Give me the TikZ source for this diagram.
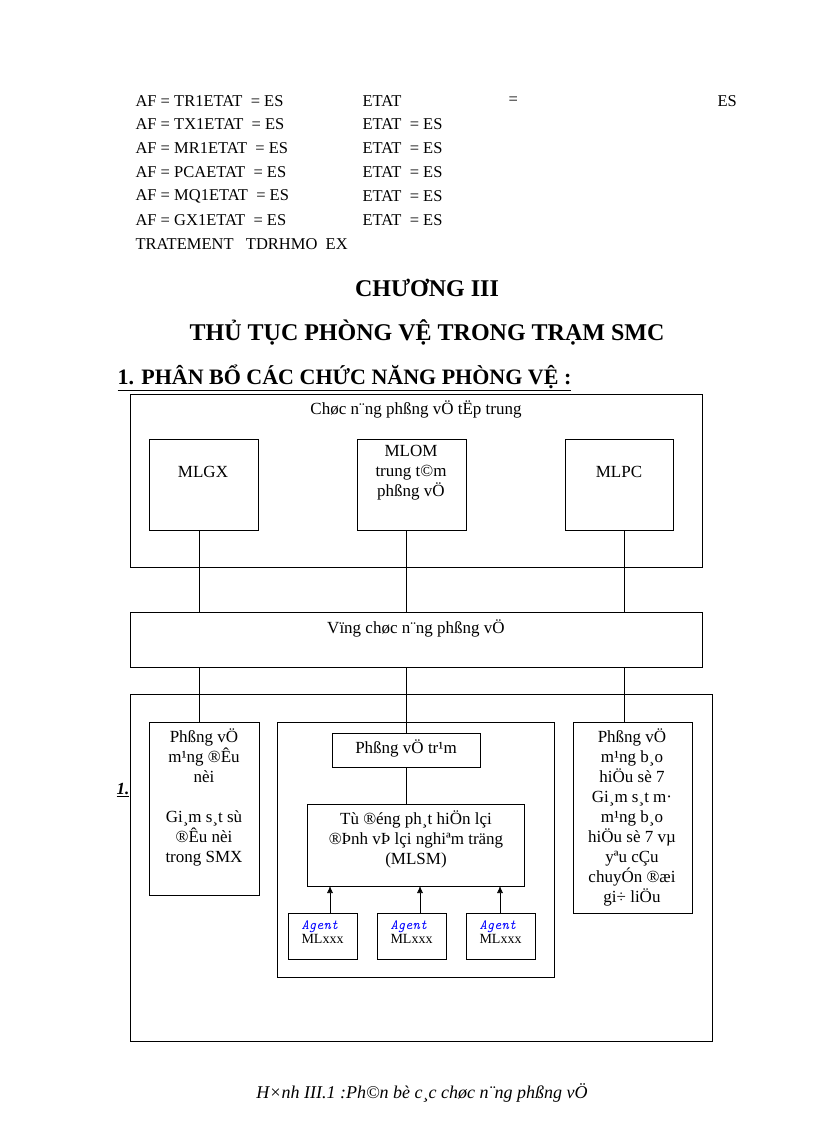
\documentclass[tikz,border=0pt]{standalone}
\usepackage{fontspec}
\usetikzlibrary{arrows.meta}
\setmainfont{Liberation Serif}
\begin{document}
\begin{tikzpicture}[x=1pt,y=-1pt,
  box/.style={draw,line width=0.8pt},
  lbl/.style={font=\fontsize{17}{20}\selectfont,align=center,anchor=north},
  txt/.style={font=\fontsize{16.5}{20}\selectfont,anchor=west},
  hd/.style={font=\bfseries\fontsize{24}{28}\selectfont},
  ln/.style={line width=0.6pt},
  ag/.style={font=\fontsize{14}{16}\selectfont,align=left}]
\useasboundingbox (0,0) rectangle (816,1123);
% header text
\foreach \y/\a/\b in {101/TR1ETAT/ETAT, 124/TX1ETAT/ETAT\ \ = ES, 148/MR1ETAT/ETAT\ \ = ES, 172/PCAETAT/ETAT\ \ = ES, 196/MQ1ETAT/ETAT\ \ = ES, 220/GX1ETAT/ETAT\ \ = ES}{
  \node[txt] (l\y) at (132,\y) {AF = \a\ \ = ES};
  \node[txt] (r\y) at (359,\y) {\b};
}
\node[txt] (eq) at (505,101) {=};
\node[txt] (es) at (714,101) {ES};
\node[txt] (tr) at (132,244) {TRATEMENT\ \ \ TDRHMO\ \ EX};
\node[hd] (h1) at (427,288) {CHƯƠNG III};
\node[hd] (h2) at (427,332) {THỦ TỤC PHÒNG VỆ TRONG TRẠM SMC};
\node[hd,anchor=west,font=\bfseries\fontsize{22}{26}\selectfont] (h3) at (114,378) {\underline{1. PHÂN BỔ CÁC CHỨC NĂNG PHÒNG VỆ :}};
% top group
\draw[box] (130,394) rectangle (702,567);
\node[lbl] (t1) at (416,397) {Chøc n¨ng phßng vÖ tËp trung};
\draw[box] (149,439) rectangle (258,530); \node[lbl] (mlgx) at (203,463) {MLGX};
\draw[box] (357,439) rectangle (466,530); \node[lbl] (mlom) at (411,442) {MLOM\\trung t©m\\phßng vÖ};
\draw[box] (565,439) rectangle (673,530); \node[lbl] (mlpc) at (619,463) {MLPC};
\draw[ln] (199,530) -- (199,612); \draw[ln] (406,530) -- (406,612); \draw[ln] (624,530) -- (624,612);
\draw[box] (130,612) rectangle (702,667);
\node[lbl] (vung) at (416,616) {Vïng chøc n¨ng phßng vÖ};
\draw[ln] (199,667) -- (199,722); \draw[ln] (406,667) -- (406,733); \draw[ln] (624,667) -- (624,722);
% bottom group
\draw[box] (130,694) rectangle (712,1041);
\node[font=\bfseries\itshape\fontsize{17}{20}\selectfont] (one) at (123,790) {\underline{1.}};
\draw[box] (149,722) rectangle (259,895);
\node[lbl] (left) at (204,725) {Phßng vÖ\\m¹ng ®Êu\\nèi\\[20pt]Gi¸m s¸t sù\\®Êu nèi\\trong SMX};
\draw[box] (277,722) rectangle (554,977);
\draw[box] (332,733) rectangle (480,767); \node[lbl] (tram) at (406,736) {Phßng vÖ tr¹m};
\draw[ln] (406,767) -- (406,804);
\draw[box] (307,804) rectangle (524,886);
\node[lbl] (mlsm) at (416,807) {Tù ®éng ph¸t hiÖn lçi\\®Þnh vÞ lçi nghiªm träng\\(MLSM)};
\foreach \x/\ax in {288/330,377/420,466/500}{
  \draw[box] (\x,913) rectangle (\x+69,959);
  \node[ag,anchor=north west] at (\x+10,917) {\textcolor{blue}{\ttfamily\itshape Agent}\\[-2pt]MLxxx};
  \draw[ln,-{Latex[length=7pt,width=6pt]}] (\ax,913) -- (\ax,886);
}
\draw[box] (573,722) rectangle (692,913);
\node[lbl] (right) at (632,725) {Phßng vÖ\\m¹ng b¸o\\hiÖu sè 7\\Gi¸m s¸t m·\\m¹ng b¸o\\hiÖu sè 7 vµ\\yªu cÇu\\chuyÓn ®æi\\gi÷ liÖu};
\node[font=\itshape\fontsize{18}{21}\selectfont] (cap) at (422,1093) {H×nh III.1 :Ph©n bè c¸c chøc n¨ng phßng vÖ};
\end{tikzpicture}
\end{document}
